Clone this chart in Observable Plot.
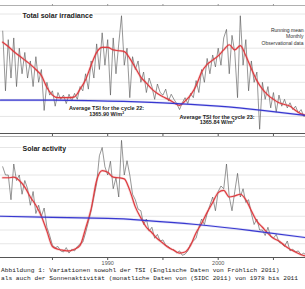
<!DOCTYPE html>
<html><head><meta charset="utf-8">
<script src="https://cdn.jsdelivr.net/npm/d3@7"></script>
<script src="https://cdn.jsdelivr.net/npm/@observablehq/plot@0.6"></script>
<style>
body{margin:0;background:#fff;}
#wrap{position:relative;width:305px;height:289px;overflow:hidden;font-family:"Liberation Sans",Arial,sans-serif;background:#fff}
#p1{position:absolute;left:0;top:0}
#p2{position:absolute;left:0;top:130px}
#cap{position:absolute;left:1px;top:267px;font-family:"Liberation Mono",monospace;font-size:6.2px;line-height:7.5px;white-space:nowrap;color:#1a1a1a}
</style></head>
<body>
<div id="wrap"><div id="p1"></div><div id="p2"></div><div id="cap"></div></div>
<script>
// ---- data ----
const rawStart = 1980.5, rawStep = 0.25;       // quarterly samples
const smoothStart = 1980.5, smoothStep = 0.5;  // half-year samples

const tsiRaw = [
  1366.70, 1366.00,
  1366.60, 1366.15, 1366.62, 1366.05,
  1366.50, 1366.20, 1366.45, 1366.15,
  1366.35, 1366.05, 1366.40, 1366.10,
  1366.25, 1365.77, 1366.10, 1365.95,
  1366.00, 1365.82, 1365.98, 1365.90,
  1365.95, 1365.85, 1365.96, 1365.88,
  1365.97, 1365.90, 1366.05, 1366.00,
  1366.20, 1366.02, 1366.35, 1366.15,
  1366.55, 1366.25, 1366.68, 1366.30,
  1366.60, 1365.95, 1366.62, 1366.20,
  1366.55, 1366.88, 1366.30, 1366.50,
  1365.92, 1366.40, 1366.25, 1366.35,
  1366.10, 1366.22, 1365.98, 1366.15,
  1366.05, 1365.90, 1366.08, 1365.98,
  1365.95, 1366.02, 1365.88, 1365.96,
  1365.90, 1365.85, 1365.78, 1365.86,
  1365.92, 1365.85, 1365.97, 1365.92,
  1366.12, 1365.98, 1366.25, 1366.10,
  1366.38, 1366.20, 1366.42, 1366.28,
  1366.50, 1366.30, 1366.62, 1366.72,
  1366.20, 1366.65, 1366.45, 1365.92,
  1366.88, 1366.30, 1366.60, 1366.00,
  1366.35, 1366.10, 1366.22, 1365.55,
  1366.10, 1365.90, 1366.05, 1365.80,
  1365.98, 1365.75, 1365.95, 1365.82,
  1365.90, 1365.80, 1365.86, 1365.78,
  1365.82, 1365.74, 1365.78, 1365.70,
  1365.72
];
const tsiSmooth = [
  1366.57, 1366.52, 1366.46, 1366.41, 1366.36, 1366.31, 1366.25, 1366.18,
  1366.04, 1365.95, 1365.92, 1365.92, 1365.92, 1365.93, 1366.02, 1366.13,
  1366.30, 1366.45, 1366.51, 1366.51, 1366.48, 1366.47, 1366.46, 1366.38,
  1366.27, 1366.16, 1366.09, 1366.02, 1365.97, 1365.93, 1365.90, 1365.86,
  1365.83, 1365.88, 1365.95, 1366.06, 1366.22, 1366.31, 1366.36, 1366.41,
  1366.48, 1366.54, 1366.48, 1366.53, 1366.41, 1366.26, 1366.12, 1366.02,
  1365.95, 1365.90, 1365.86, 1365.84, 1365.82, 1365.77, 1365.73, 1365.71
];
const tsiTrendYears = [1980.3, 1985, 1990, 1995, 2000, 2004, 2008];
const tsiTrend = [1365.89, 1365.89, 1365.88, 1365.86, 1365.82, 1365.77, 1365.71];

const ssnRaw = [
  165, 150,
  150, 105, 170, 140,
  150, 115, 140, 125,
  95, 120, 80, 95,
  75, 90, 55, 40,
  22, 18, 20, 12,
  10, 18, 8, 15,
  12, 20, 25, 28,
  45, 65, 85, 110,
  135, 185, 200, 165,
  150, 175, 125, 145,
  110, 213, 150, 176,
  150, 115, 105, 88,
  85, 60, 70, 48,
  55, 35, 42, 30,
  32, 22, 20, 15,
  14, 8, 12, 4,
  6, 12, 25, 30,
  35, 55, 70, 60,
  80, 95, 110, 85,
  120, 130, 125, 170,
  110, 85, 120, 153,
  110, 125, 100, 105,
  80, 60, 70, 50,
  50, 40, 55, 38,
  35, 42, 28, 25,
  20, 30, 12, 15,
  10, 12, 5, 8,
  3
];
const ssnSmooth = [
  145, 145, 146, 140, 128, 110, 95, 75,
  48, 20, 15, 13, 12, 15, 22, 53,
  88, 140, 158, 155, 146, 145, 143, 122,
  92, 72, 55, 45, 34, 26, 18, 13,
  8, 10, 22, 45, 62, 82, 100, 118,
  122, 110, 112, 115, 105, 85, 66, 55,
  44, 35, 30, 22, 15, 10, 5, 2
];
const ssnTrendYears = [1980.3, 1985, 1990, 1993, 1998, 2003, 2008];
const ssnTrend = [75, 73, 71, 68, 60, 49, 36];

const tickYears = [1985, 1990, 1995, 2000, 2005];
const labels = {
  tsiTitle: "Total solar irradiance",
  ssnTitle: "Solar activity",
  legend: ["Running mean", "Monthly", "Observational data"],
  avg22: "Average TSI for the cycle 22:\n1365.90 W/m²",
  avg23: "Average TSI for the cycle 23:\n1365.84 W/m²",
  caption: [
    "Abbildung 1: Variationen sowohl der TSI (Englische Daten von Fröhlich 2011)",
    "als auch der Sonnenaktivität (monatliche Daten von (SIDC 2011) von 1978 bis 2011"
  ]
};

// ---- tables ----
const series = (start, step, vals) => vals.map((v, i) => ({year: start + i * step, v}));
const tsiRawT = series(rawStart, rawStep, tsiRaw);
const tsiSmT = series(smoothStart, smoothStep, tsiSmooth);
const tsiTrT = tsiTrendYears.map((y, i) => ({year: y, v: tsiTrend[i]}));
const ssnRawT = series(rawStart, rawStep, ssnRaw);
const ssnSmT = series(smoothStart, smoothStep, ssnSmooth);
const ssnTrT = ssnTrendYears.map((y, i) => ({year: y, v: ssnTrend[i]}));

const xDomain = [1980.3, 2007.9];
const RED = "#de3b3f", BLUE = "#3838d0", BLACK = "#505050";

const dataMarks = (raw, sm, tr) => [
  Plot.line(raw, {x: "year", y: "v", stroke: BLACK, strokeWidth: 0.6, clip: true}),
  Plot.line(sm, {x: "year", y: "v", stroke: RED, strokeWidth: 2.6, strokeOpacity: 0.2, curve: "monotone-x", clip: true}),
  Plot.line(sm, {x: "year", y: "v", stroke: RED, strokeWidth: 1.2, curve: "monotone-x", clip: true}),
  Plot.line(tr, {x: "year", y: "v", stroke: BLUE, strokeWidth: 2.6, strokeOpacity: 0.15, curve: "natural", clip: true}),
  Plot.line(tr, {x: "year", y: "v", stroke: BLUE, strokeWidth: 1.2, curve: "natural", clip: true})
];

const p1 = Plot.plot({
  width: 305, height: 138,
  marginTop: 5, marginBottom: 5, marginLeft: 0, marginRight: 0,
  style: {background: "transparent", fontFamily: "Liberation Sans, Arial, sans-serif", overflow: "visible"},
  x: {domain: xDomain, label: null},
  y: {domain: [1365.5, 1367.0], axis: null},
  marks: [
    Plot.gridY([1365.7, 1365.9, 1366.1, 1366.3, 1366.5, 1366.7, 1366.9], {stroke: "#e6e6e6", strokeOpacity: 1}),
    Plot.ruleY([1367.0], {stroke: "#b0b0b0"}),
    ...dataMarks(tsiRawT, tsiSmT, tsiTrT),
    Plot.text([labels.avg22], {x: 1989.9, y: 1365.76, text: d => d, fontSize: 5.5, fontWeight: "bold", fill: "#222", lineHeight: 1.0}),
    Plot.text([labels.avg23], {x: 1999.9, y: 1365.66, text: d => d, fontSize: 5.5, fontWeight: "bold", fill: "#222", lineHeight: 1.0}),
    Plot.text([labels.tsiTitle], {frameAnchor: "top-left", dx: 22, dy: 10, text: d => d, textAnchor: "start", lineAnchor: "middle", fontSize: 7, fontWeight: "bold", fill: "#222", stroke: "white", strokeWidth: 3}),
    Plot.text([labels.legend[0]], {frameAnchor: "top-left", dx: 303, dy: 25, text: d => d, textAnchor: "end", lineAnchor: "middle", fontSize: 5, fill: "#333"}),
    Plot.text([labels.legend[1]], {frameAnchor: "top-left", dx: 303, dy: 30.5, text: d => d, textAnchor: "end", lineAnchor: "middle", fontSize: 5, fill: "#333"}),
    Plot.text([labels.legend[2]], {frameAnchor: "top-left", dx: 303, dy: 38, text: d => d, textAnchor: "end", lineAnchor: "middle", fontSize: 5, fill: "#333"}),
    Plot.ruleY([1365.5], {stroke: "#555", strokeWidth: 1.2}),
    Plot.axisX({ticks: tickYears, tickFormat: () => "", tickSize: 3, anchor: "bottom", stroke: "#555", label: null}),
    Plot.axisX({ticks: tickYears, tickFormat: () => "", tickSize: 2, anchor: "top", stroke: "#999", label: null})
  ]
});
document.getElementById("p1").appendChild(p1);

const p2 = Plot.plot({
  width: 305, height: 140,
  marginTop: 6, marginBottom: 13, marginLeft: 0, marginRight: 0,
  style: {background: "transparent", fontFamily: "Liberation Sans, Arial, sans-serif", overflow: "visible"},
  x: {domain: xDomain, label: null},
  y: {domain: [0, 220], axis: null},
  marks: [
    Plot.gridY([25, 50, 75, 100, 125, 150, 175, 200], {stroke: "#e6e6e6", strokeOpacity: 1}),
    Plot.ruleY([220], {stroke: "#b0b0b0"}),
    ...dataMarks(ssnRawT, ssnSmT, ssnTrT),
    Plot.text([labels.ssnTitle], {frameAnchor: "top-left", dx: 22, dy: 12, text: d => d, textAnchor: "start", lineAnchor: "middle", fontSize: 7, fontWeight: "bold", fill: "#222", stroke: "white", strokeWidth: 3}),
    Plot.ruleY([0], {stroke: "#555", strokeWidth: 1.2}),
    Plot.axisX({ticks: tickYears, tickFormat: d => (d % 10 === 0 ? String(d) : ""), tickSize: 3, tickPadding: 1, anchor: "bottom", stroke: "#555", fill: "#555", fontSize: 5.5, label: null})
  ]
});
document.getElementById("p2").appendChild(p2);

const cap = document.getElementById("cap");
labels.caption.forEach(t => {
  const d = document.createElement("div");
  d.textContent = t;
  cap.appendChild(d);
});
</script>
</body></html>
